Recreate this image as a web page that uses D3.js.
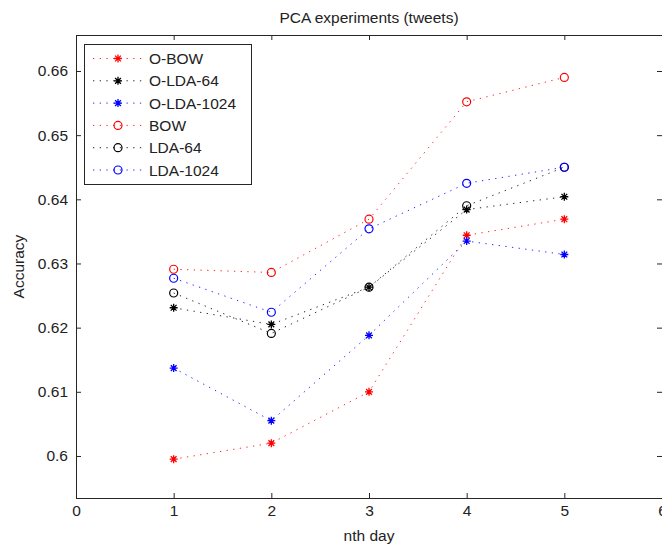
<!DOCTYPE html>
<html>
<head>
<meta charset="utf-8">
<script src="https://cdn.jsdelivr.net/npm/d3@7"></script>
<style>
  html, body { margin: 0; padding: 0; background: #fff; }
  svg { display: block; font-family: "Liberation Sans", Arial, Helvetica, sans-serif; }
</style>
</head>
<body>
<svg id="chart" width="662" height="549"></svg>
<script>
// ---- data ----
const days = [1, 2, 3, 4, 5];
const xTicks = [0, 1, 2, 3, 4, 5, 6];
const yTicks = [0.6, 0.61, 0.62, 0.63, 0.64, 0.65, 0.66];
const xLimits = [0, 6];
const yLimits = [0.59345, 0.66561];

const seriesNames = ["O-BOW", "O-LDA-64", "O-LDA-1024", "BOW", "LDA-64", "LDA-1024"];
const seriesColors = ["#ff0000", "#000000", "#0000ff", "#ff0000", "#000000", "#0000ff"];
const seriesMarkers = ["star", "star", "star", "circle", "circle", "circle"];

const oBow     = [0.5995, 0.6020, 0.6100, 0.6344, 0.6369];
const oLda64   = [0.6231, 0.6205, 0.6263, 0.6384, 0.6404];
const oLda1024 = [0.6137, 0.6055, 0.6188, 0.6335, 0.6314];
const bow      = [0.6291, 0.6286, 0.6369, 0.6552, 0.6590];
const lda64    = [0.6254, 0.6191, 0.6263, 0.6390, 0.6450];
const lda1024  = [0.6277, 0.6224, 0.6354, 0.6425, 0.6450];
const seriesValues = [oBow, oLda64, oLda1024, bow, lda64, lda1024];

// ---- layout ----
const L = 76, R = 662, T = 35, B = 498;
const svg = d3.select("#chart");
svg.append("rect").attr("width", 662).attr("height", 549).attr("fill", "#fff");

const x = d3.scaleLinear().domain(xLimits).range([L, R]);
const y = d3.scaleLinear().domain(yLimits).range([B, T]);

const fontSize = 15.5;
const axisColor = "#262626";

function styleAxis(g) {
  g.select(".domain").remove();
  g.selectAll(".tick line").attr("stroke", axisColor);
  g.selectAll(".tick text").attr("fill", "#222").attr("font-size", fontSize)
    .attr("font-family", "Liberation Sans, Arial, sans-serif");
}

svg.append("g").attr("transform", `translate(0,${B})`)
  .call(d3.axisBottom(x).tickValues(xTicks).tickFormat(d3.format("d")).tickSizeInner(-5).tickSizeOuter(0).tickPadding(7))
  .call(styleAxis);
svg.append("g").attr("transform", `translate(0,${T})`)
  .call(d3.axisTop(x).tickValues(xTicks).tickFormat("").tickSizeInner(-5).tickSizeOuter(0))
  .call(styleAxis);
svg.append("g").attr("transform", `translate(${L},0)`)
  .call(d3.axisLeft(y).tickValues(yTicks).tickFormat(d => String(+d.toFixed(2))).tickSizeInner(-5).tickSizeOuter(0).tickPadding(8))
  .call(styleAxis);
svg.append("g").attr("transform", `translate(${R},0)`)
  .call(d3.axisRight(y).tickValues(yTicks).tickFormat("").tickSizeInner(-5).tickSizeOuter(0))
  .call(styleAxis);

// box
svg.append("rect").attr("x", L + 0.5).attr("y", T + 0.5)
  .attr("width", R - L).attr("height", B - T)
  .attr("fill", "none").attr("stroke", axisColor).attr("stroke-width", 1);

// ---- series ----
const line = d3.line().x((d, i) => x(days[i])).y(d => y(d));
const dash = "1.3 5.4";

function drawMarker(g, type, color, cx, cy) {
  if (type === "star") {
    const r = 4, d = r * 0.72;
    g.append("path")
      .attr("d", `M${cx - r},${cy}L${cx + r},${cy}M${cx},${cy - r}L${cx},${cy + r}` +
                 `M${cx - d},${cy - d}L${cx + d},${cy + d}M${cx - d},${cy + d}L${cx + d},${cy - d}`)
      .attr("stroke", color).attr("stroke-width", 1.3).attr("fill", "none");
  } else {
    g.append("circle").attr("cx", cx).attr("cy", cy).attr("r", 4)
      .attr("fill", "none").attr("stroke", color).attr("stroke-width", 1.2);
  }
}

seriesValues.forEach((vals, si) => {
  const g = svg.append("g");
  g.append("path").datum(vals).attr("d", line)
    .attr("fill", "none").attr("stroke", seriesColors[si]).attr("stroke-width", 1)
    .attr("stroke-dasharray", dash).attr("stroke-opacity", 0.85);
  vals.forEach((v, i) => drawMarker(g, seriesMarkers[si], seriesColors[si], x(days[i]), y(v)));
});

// ---- legend ----
const lg = svg.append("g");
lg.append("rect").attr("x", 84.5).attr("y", 44.5).attr("width", 167).attr("height", 140)
  .attr("fill", "#fff").attr("stroke", axisColor).attr("stroke-width", 1);
seriesNames.forEach((name, i) => {
  const yy = 58.5 + i * 22.3;
  lg.append("line").attr("x1", 93).attr("x2", 143).attr("y1", yy).attr("y2", yy)
    .attr("stroke", seriesColors[i]).attr("stroke-width", 1).attr("stroke-dasharray", dash)
    .attr("stroke-opacity", 0.85);
  drawMarker(lg, seriesMarkers[i], seriesColors[i], 118, yy);
  lg.append("text").attr("x", 149).attr("y", yy).attr("dy", "0.36em")
    .attr("font-size", fontSize).attr("fill", "#222").text(name);
});

// ---- titles ----
svg.append("text").attr("x", (L + R) / 2).attr("y", 23).attr("text-anchor", "middle")
  .attr("font-size", fontSize).attr("fill", "#222").text("PCA experiments (tweets)");
svg.append("text").attr("x", (L + R) / 2).attr("y", 541).attr("text-anchor", "middle")
  .attr("font-size", fontSize).attr("fill", "#222").text("nth day");
svg.append("text").attr("transform", `translate(24,${(T + B) / 2}) rotate(-90)`)
  .attr("text-anchor", "middle").attr("font-size", fontSize).attr("fill", "#222").text("Accuracy");
</script>
</body>
</html>
